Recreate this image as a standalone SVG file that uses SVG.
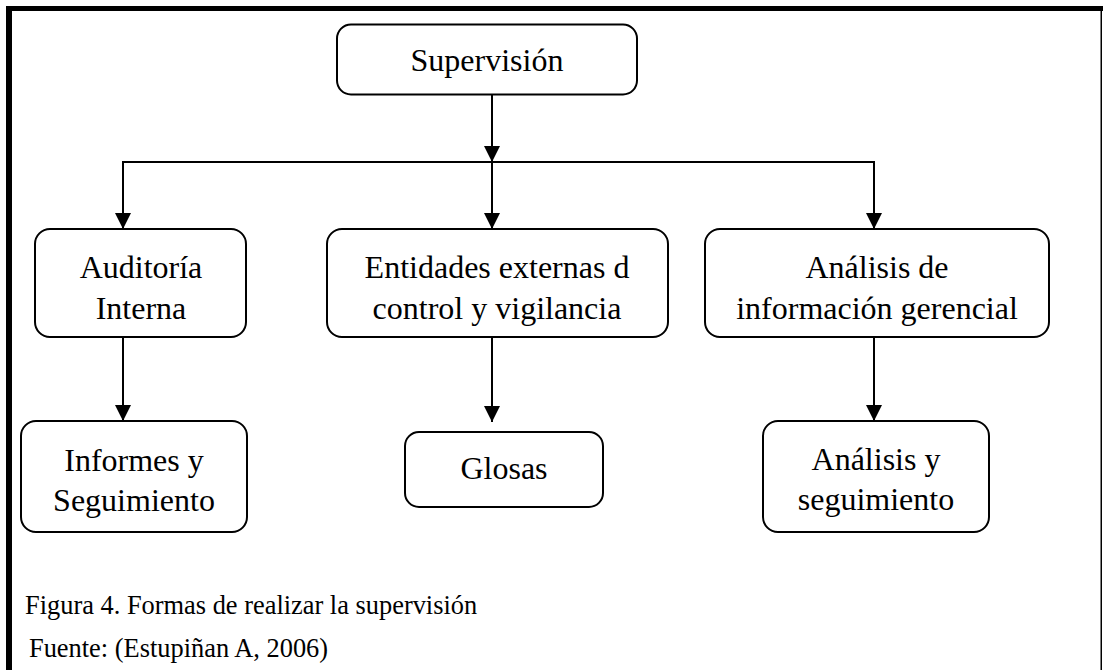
<svg xmlns="http://www.w3.org/2000/svg" width="1103" height="670" viewBox="0 0 1103 670">
<style>
.box{fill:#fff;stroke:#000;stroke-width:2}
.t{font-family:"Liberation Serif","Times New Roman",serif;font-size:32px;fill:#000;text-anchor:middle}
.cap{font-family:"Liberation Serif","Times New Roman",serif;font-size:26.4px;fill:#000}
.ln{fill:none;stroke:#000;stroke-width:2}
</style>
<defs>
<marker id="ah" markerUnits="userSpaceOnUse" markerWidth="16" markerHeight="16" refX="16" refY="8" orient="auto">
<path d="M0,0 L16,8 L0,16 z" fill="#000"/>
</marker>
</defs>
<rect width="1103" height="670" fill="#fff"/>
<g id="frame">
<rect x="6" y="6" width="1097" height="5" fill="#000"/>
<rect x="6" y="6" width="6" height="664" fill="#000"/>
<rect x="1100.5" y="6" width="1.5" height="664" fill="#000"/>
</g>
<g id="connectors">
<line class="ln" x1="492" y1="95" x2="492" y2="162" marker-end="url(#ah)"/>
<line class="ln" x1="122" y1="162" x2="875" y2="162"/>
<line class="ln" x1="123" y1="162" x2="123" y2="229" marker-end="url(#ah)"/>
<line class="ln" x1="492" y1="162" x2="492" y2="229" marker-end="url(#ah)"/>
<line class="ln" x1="874" y1="162" x2="874" y2="229" marker-end="url(#ah)"/>
<line class="ln" x1="123" y1="337" x2="123" y2="421" marker-end="url(#ah)"/>
<line class="ln" x1="492" y1="337" x2="492" y2="422" marker-end="url(#ah)"/>
<line class="ln" x1="874" y1="337" x2="874" y2="421" marker-end="url(#ah)"/>
</g>
<g id="supervision">
<rect class="box" x="337" y="24.5" width="300" height="70" rx="14"/>
<text class="t" x="487" y="71">Supervisión</text>
</g>
<g id="auditoria">
<rect class="box" x="35" y="229" width="211" height="108" rx="15"/>
<text class="t" x="141" y="278">Auditoría</text>
<text class="t" x="141" y="319">Interna</text>
</g>
<g id="entidades">
<rect class="box" x="327" y="229" width="341" height="108" rx="15"/>
<text class="t" x="497" y="278">Entidades externas d</text>
<text class="t" x="497" y="319">control y vigilancia</text>
</g>
<g id="analisis-info">
<rect class="box" x="705" y="229" width="344" height="108" rx="15"/>
<text class="t" x="877" y="278">Análisis de</text>
<text class="t" x="877" y="319">información gerencial</text>
</g>
<g id="informes">
<rect class="box" x="21" y="421" width="226" height="111" rx="15"/>
<text class="t" x="134" y="471">Informes y</text>
<text class="t" x="134" y="511">Seguimiento</text>
</g>
<g id="glosas">
<rect class="box" x="405" y="432" width="198" height="75" rx="14"/>
<text class="t" x="504" y="479">Glosas</text>
</g>
<g id="analisis-seg">
<rect class="box" x="763" y="421" width="226" height="111" rx="15"/>
<text class="t" x="876" y="470">Análisis y</text>
<text class="t" x="876" y="510">seguimiento</text>
</g>
<g id="caption">
<text class="cap" x="25" y="614">Figura 4. Formas de realizar la supervisión</text>
<text class="cap" x="29" y="657">Fuente: (Estupiñan A, 2006)</text>
</g>
</svg>
